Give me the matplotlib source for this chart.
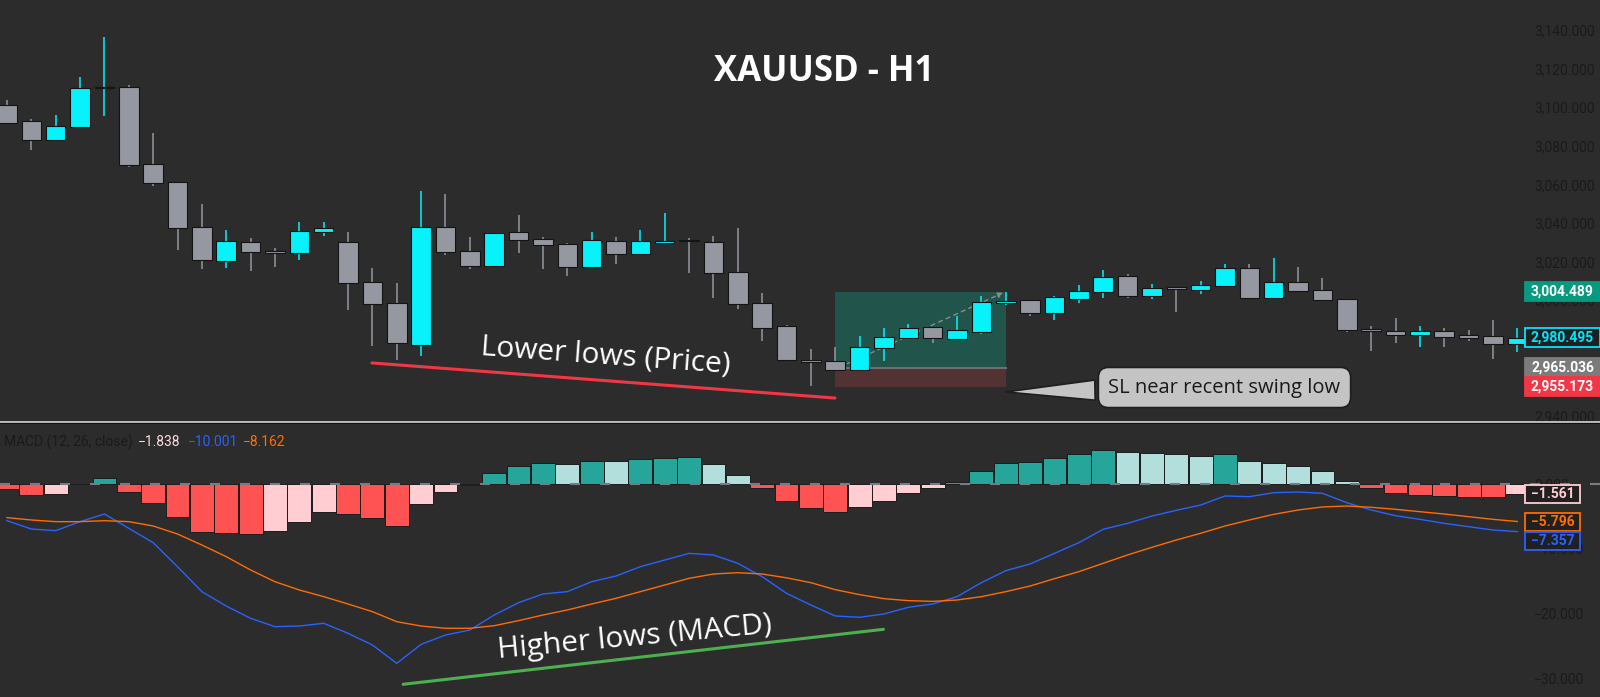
import numpy as np
import matplotlib
matplotlib.use("Agg")
import matplotlib.pyplot as plt
import matplotlib.transforms as mtransforms
from matplotlib.patches import Rectangle
from matplotlib.lines import Line2D

# ---------------- data ----------------
opens = [3100.9, 3092.6, 3083.2, 3090.0, 3110.0, 3110.4, 3070.6, 3061.3, 3037.8, 3020.3,
         3030.3, 3025.1, 3024.2, 3035.2, 3030.1, 3009.4, 2998.8, 2977.0, 3037.8, 3025.3,
         3017.7, 3035.1, 3031.5, 3028.9, 3017.2, 3030.8, 3023.7, 3029.8, 3031.2, 3030.3,
         3014.6, 2998.8, 2986.5, 2968.9, 2968.6, 2963.9, 2975.1, 2980.3, 2986.0, 2980.0,
         2983.6, 2998.5, 3000.0, 2993.4, 3000.5, 3004.2, 3012.7, 3002.2, 3006.5, 3005.3,
         3007.3, 3016.8, 3001.3, 3009.4, 3005.3, 3000.5, 2985.0, 2984.3, 2982.2, 2983.9,
         2982.0, 2981.2, 2977.3]
highs = [3103.5, 3094.0, 3096.1, 3115.9, 3136.5, 3111.6, 3086.6, 3061.5, 3050.1, 3036.3,
         3032.1, 3027.2, 3040.4, 3040.4, 3035.2, 3016.5, 3008.7, 3056.4, 3055.1, 3032.9,
         3035.0, 3043.9, 3032.7, 3029.8, 3035.1, 3032.5, 3036.3, 3045.4, 3032.3, 3033.5,
         3037.5, 3003.9, 2987.2, 2974.6, 2975.8, 2981.2, 2985.6, 2987.9, 2986.2, 2991.7,
         3002.2, 3004.2, 3000.3, 3002.0, 3007.7, 3015.5, 3013.4, 3008.6, 3007.0, 3010.0,
         3018.6, 3018.6, 3022.0, 3017.4, 3011.7, 3000.8, 2986.4, 2991.0, 2986.7, 2985.8,
         2984.4, 2989.6, 2985.8]
lows = [3091.4, 3078.0, 3082.8, 3089.8, 3095.2, 3068.8, 3059.0, 3026.0, 3016.0, 3016.5,
        3015.1, 3017.4, 3020.8, 3033.2, 2994.9, 2976.3, 2969.1, 2971.2, 3023.2, 3016.0,
        3017.5, 3024.2, 3016.0, 3012.5, 3016.5, 3018.7, 3023.5, 3029.6, 3013.9, 3001.3,
        2995.3, 2978.9, 2968.3, 2955.7, 2963.3, 2963.7, 2968.6, 2980.1, 2977.6, 2979.5,
        2982.7, 2997.4, 2991.8, 2989.8, 2998.4, 3001.1, 3001.0, 3000.5, 2993.9, 3003.2,
        3007.0, 3001.0, 3001.0, 3004.6, 3000.0, 2983.3, 2973.7, 2977.7, 2975.8, 2975.8,
        2978.9, 2969.5, 2973.2]
closes = [3091.9, 3083.2, 3090.4, 3110.0, 3110.4, 3070.1, 3060.8, 3037.3, 3020.6, 3030.6,
          3024.9, 3024.9, 3035.8, 3037.2, 3008.7, 2998.2, 2977.6, 3037.8, 3024.9, 3017.7,
          3034.7, 3031.0, 3028.5, 3017.4, 3031.1, 3023.9, 3030.6, 3030.4, 3030.8, 3013.9,
          2997.9, 2985.8, 2968.9, 2968.4, 2963.9, 2975.8, 2981.0, 2985.5, 2980.2, 2984.4,
          2998.9, 2999.8, 2993.4, 3001.5, 3004.8, 3012.2, 3002.2, 3006.5, 3006.1, 3008.1,
          3016.8, 3001.3, 3009.4, 3004.8, 3000.1, 2984.6, 2983.8, 2982.2, 2984.1, 2981.0,
          2980.5, 2977.2, 2980.495]

hist = [-0.73, -1.65, -1.5, 0.05, 0.97, -1.24, -2.89, -5.1, -7.37, -7.6,
        -7.7, -7.31, -5.82, -4.33, -4.69, -5.25, -6.54, -3.04, -1.19, -0.2,
        1.75, 2.78, 3.3, 3.09, 3.6, 3.55, 3.86, 4.07, 4.1, 3.04,
        1.39, -0.57, -2.58, -3.66, -4.28, -3.6, -2.63, -1.34, -0.67, 0.36,
        2.06, 3.19, 3.45, 4.07, 4.59, 5.26, 5.0, 4.84, 4.59, 4.38,
        4.64, 3.6, 3.3, 2.83, 2.06, 0.46, -0.67, -1.44, -1.7, -1.85,
        -1.96, -1.98, -1.561]
macd = [-5.67, -6.96, -7.21, -5.82, -4.64, -6.85, -9.07, -12.78, -16.64, -18.86,
        -20.76, -22.05, -21.95, -21.53, -23.08, -24.88, -27.72, -24.78, -23.34, -22.57,
        -20.25, -18.34, -17.0, -16.64, -15.1, -14.22, -12.78, -11.75, -10.72, -10.97,
        -12.26, -14.32, -16.9, -18.7, -20.4, -20.6, -20.09, -19.06, -18.55, -17.41,
        -15.25, -13.4, -12.36, -10.72, -9.07, -7.0, -6.08, -4.95, -4.07, -3.25,
        -1.85, -1.96, -1.34, -1.24, -1.44, -2.89, -4.02, -4.9, -5.46, -6.08,
        -6.6, -7.11, -7.357]
signal = [-5.2, -5.56, -5.82, -5.82, -5.67, -5.82, -6.49, -7.73, -9.43, -11.23,
          -13.29, -15.1, -16.38, -17.41, -18.55, -19.73, -21.28, -21.95, -22.3, -22.3,
          -21.9, -21.12, -20.25, -19.47, -18.55, -17.67, -16.64, -15.61, -14.58, -13.91,
          -13.71, -13.91, -14.5, -15.25, -16.33, -17.1, -17.72, -18.03, -18.14, -17.93,
          -17.41, -16.64, -15.77, -14.63, -13.55, -12.26, -10.97, -9.79, -8.66, -7.62,
          -6.49, -5.56, -4.69, -4.02, -3.55, -3.4, -3.6, -3.91, -4.28, -4.64,
          -5.05, -5.46, -5.796]

price_ticks = [2940, 2960, 2980, 3000, 3020, 3040, 3060, 3080, 3100, 3120, 3140]
price_tick_labels = ["2,940.000", "2,960.000", "2,980.000", "3,000.000", "3,020.000",
                     "3,040.000", "3,060.000", "3,080.000", "3,100.000", "3,120.000",
                     "3,140.000"]
macd_ticks = [0, -10, -20, -30]
macd_tick_labels = ["0.000", "\u221210.000", "\u221220.000", "\u221230.000"]

tp_price, entry_price, sl_price = 3004.489, 2965.036, 2955.173
last_price = 2980.495
pos_start, pos_end = 34, 41
lower_lows_line = ([14.98, 33.99], [2967.5, 2949.3])
higher_lows_line = ([16.26, 35.98], [-30.96, -22.46])
legend_values = ["\u22121.838", "\u221210.001", "\u22128.162"]

# ---------------- style ----------------
W, H, DPI = 1600, 697, 100
BG = "#2c2c2c"
CYAN = "#08f2fc"
GRAY = "#9598a1"
TICKC = "#1a1a1a"
plt.rcParams["font.family"] = ["Roboto", "DejaVu Sans"]

fig = plt.figure(figsize=(W / DPI, H / DPI), dpi=DPI, facecolor=BG)
PIX = mtransforms.Affine2D().scale(1, -1).translate(0, H)  # top-left pixel coords


def fy(py):
    return 1 - py / H


price_bot_px = 421
macd_top_px = 424
ax = fig.add_axes([0, fy(price_bot_px), 1, price_bot_px / H])
ax2 = fig.add_axes([0, 0, 1, (H - macd_top_px) / H])
for a in (ax, ax2):
    a.set_facecolor(BG)
    for s in a.spines.values():
        s.set_visible(False)
    a.set_xticks([])

bar_px, x0_px = 24.36, 7.0
PPU, P0 = 1.93, 30.0      # price px per unit, px of 3140
MPU, M0 = 6.47, 484.0     # macd px per unit, px of 0


def p_at(py):
    return 3140 - (py - P0) / PPU


def v_at(py):
    return (M0 - py) / MPU


x = np.arange(len(opens))
o = np.array(opens); h = np.array(highs); l = np.array(lows); c = np.array(closes)
up = c >= o
col = np.where(up, CYAN, GRAY)

# position tool
ax.add_patch(Rectangle((pos_start, entry_price), pos_end - pos_start, tp_price - entry_price,
                       fc="#21544b", ec="none", zorder=1))
ax.add_patch(Rectangle((pos_start, sl_price), pos_end - pos_start, entry_price - sl_price,
                       fc="#533234", ec="none", zorder=1))
ax.plot([pos_start, pos_end], [entry_price, entry_price], color="#6e6e6e", lw=1.5, zorder=1.5)
ax.annotate("", xy=(pos_end, tp_price), xytext=(pos_start + 0.4, entry_price + 1.5),
            arrowprops=dict(arrowstyle="-|>", color="#8c8c8c", lw=1.0,
                            linestyle=(0, (3, 3)), mutation_scale=8), zorder=1.6)

# candles
ax.vlines(x, l, h, colors=col, lw=1.1, zorder=3)
diff = np.abs(c - o)
bh = np.maximum(diff, 0.9)
blo = np.where(diff < 0.9, (o + c) / 2 - 0.45, np.minimum(o, c))
ax.bar(x, bh, bottom=blo, width=0.8, color=col, edgecolor="#141414", lw=0.8, zorder=4)

# lower lows line
ax.plot(*lower_lows_line, color="#f23645", lw=2.2, solid_capstyle="round", zorder=5)

# MACD pane
hv = np.array(hist)
rising = np.r_[False, np.diff(hv) > 0]
hcol = np.where(hv >= 0, np.where(rising, "#26a69a", "#b2dfdb"),
                np.where(rising, "#ffcdd2", "#ff5252"))
ax2.bar(x, hv, width=0.98, color=hcol, edgecolor="#1c1c1c", lw=0.7, zorder=2)
ax2.axhline(0, color="#787b86", lw=1.5, linestyle=(0, (4.8, 9.6)), zorder=3)
ax2.plot(x, macd, color="#2962ff", lw=1.0, zorder=4)
ax2.plot(x, signal, color="#ff6d00", lw=1.0, zorder=4)
ax2.plot(*higher_lows_line, color="#4caf50", lw=2.2, solid_capstyle="round", zorder=5)

# axes scales
ax.set_xlim(-x0_px / bar_px, (W - x0_px) / bar_px)
ax2.set_xlim(-x0_px / bar_px, (W - x0_px) / bar_px)
ax.set_ylim(p_at(price_bot_px), p_at(0))
ax2.set_ylim(v_at(H), v_at(macd_top_px))

for a, tks, lbs in ((ax, price_ticks, price_tick_labels), (ax2, macd_ticks, macd_tick_labels)):
    a.yaxis.tick_right()
    a.set_yticks(tks)
    a.set_yticklabels(lbs)
    a.tick_params(axis="y", length=0, pad=-(W - 1534) * 0.72, labelsize=10, labelcolor=TICKC)


# price tags
def tag(axis, yc, text, fc, ec, tc, ppu, x0=1525, x1=1600, hpx=19):
    hh = hpx / ppu
    tr = axis.get_yaxis_transform()
    axis.add_patch(Rectangle((x0 / W, yc - hh / 2), (x1 - x0) / W, hh, transform=tr,
                             fc=fc, ec=ec, lw=1.3, clip_on=False, zorder=10))
    axis.text((x0 + x1) / 2 / W, yc, text, transform=tr, ha="center", va="center",
              color=tc, fontsize=10, fontweight="bold", clip_on=False, zorder=11)


tag(ax, tp_price, "3,004.489", "#089981", "#089981", "white", PPU)
tag(ax, last_price, "2,980.495", "#1f1f1f", "#00e5ff", "#00e5ff", PPU)
tag(ax, entry_price, "2,965.036", "#7b7b7b", "#7b7b7b", "white", PPU)
tag(ax, sl_price, "2,955.173", "#f23645", "#f23645", "white", PPU)

tag(ax2, hist[-1], "\u22121.561", "#202020", "#ffcdd2", "#ffcdd2", MPU, x1=1580, hpx=18)
tag(ax2, signal[-1], "\u22125.796", "#202020", "#ff6d00", "#ff6d00", MPU, x1=1580, hpx=18)
tag(ax2, signal[-1] - 19.5 / MPU, "\u22127.357", "#202020", "#2962ff", "#2962ff", MPU,
    x1=1580, hpx=18)

# separator between panes
fig.add_artist(Line2D([0, 1], [fy(421.5)] * 2, color="#d8d8d8", lw=1.2))
fig.add_artist(Line2D([0, 1], [fy(423.3)] * 2, color="#111111", lw=0.8))

# texts
fig.text(824.5, 80.7, "XAUUSD - H1", transform=PIX, ha="center", va="baseline",
         fontsize=25, fontweight="bold", color="white", family=["Open Sans", "DejaVu Sans"])
fig.text(605, 363.5, "Lower lows (Price)", transform=PIX, ha="center", va="baseline",
         rotation=-4.15, rotation_mode="anchor", fontsize=21.5, color="white",
         family=["Open Sans", "DejaVu Sans"], zorder=6)
fig.text(636, 645, "Higher lows (MACD)", transform=PIX, ha="center", va="baseline",
         rotation=5.3, rotation_mode="anchor", fontsize=21.5, color="white",
         family=["Open Sans", "DejaVu Sans"], zorder=6)

ax.annotate("SL near recent swing low", xy=(1003, 392), xycoords=PIX,
            xytext=(1224.5, 387.5), textcoords=PIX, ha="center", va="center",
            fontsize=14.5, color="#1a1a1a", family=["Open Sans", "DejaVu Sans"],
            bbox=dict(boxstyle="round,pad=0.5,rounding_size=0.5", fc="#c4c4c4",
                      ec="#1e1e1e", lw=1.2),
            arrowprops=dict(arrowstyle="wedge,tail_width=1.0,shrink_factor=0.5",
                            fc="#c4c4c4", ec="#1e1e1e", lw=1.2),
            zorder=12, annotation_clip=False)

# MACD legend
fig.text(4, 442, "MACD (12, 26, close)", transform=PIX, ha="left", va="center",
         fontsize=10, color=TICKC)
for xp, txt, cc in zip([138, 188, 243], legend_values, ["#ffd9dc", "#2962ff", "#ff6d00"]):
    fig.text(xp, 442, txt, transform=PIX, ha="left", va="center", fontsize=10, color=cc)

fig.savefig("out.png", dpi=DPI, facecolor=BG)
